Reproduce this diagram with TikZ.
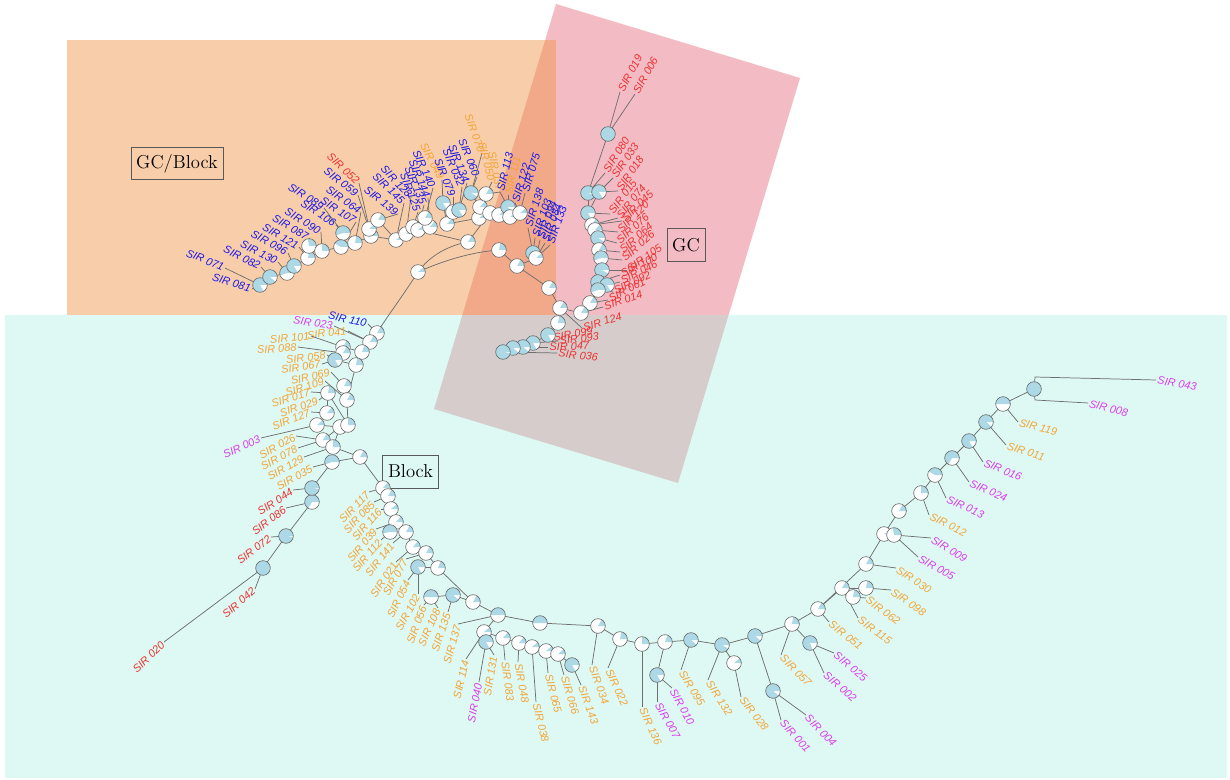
\documentclass[tikz,border=0pt]{standalone}
\usepackage{fontspec}
\newfontfamily\labfont{Liberation Sans}
\definecolor{cblue}{RGB}{25,25,235}
\definecolor{cred}{RGB}{238,50,50}
\definecolor{corange}{RGB}{243,164,56}
\definecolor{cmag}{RGB}{220,60,240}
\definecolor{pieblue}{RGB}{173,216,230}
\definecolor{brc}{RGB}{110,110,110}
\definecolor{pbd}{RGB}{100,100,100}
\definecolor{rpink}{RGB}{243,188,196}
\definecolor{rorange}{RGB}{240,148,70}
\definecolor{rcyan}{RGB}{155,237,221}
\tikzset{
 lab/.style={font=\labfont\itshape\fontsize{8.2}{9}\selectfont, inner sep=1pt},
 br/.style={draw=brc, line width=0.55pt},
 pienode/.style={circle, fill=white, minimum size=11pt, inner sep=0pt},
 piebd/.style={draw=pbd, line width=0.45pt},
 boxlab/.style={draw=gray!70!black, line width=0.5pt, font=\fontsize{14}{16}\selectfont, inner sep=4pt, minimum height=24.5pt}
}
% pie drawn at an existing coordinate
\newcommand\pie[2]{\node[pienode] (#1n) at (#1) {};
 \fill[pieblue] (#1) -- ++(0:5.5pt) arc[start angle=0,end angle=#2,radius=5.5pt] -- cycle;
 \draw[piebd] (#1) circle[radius=5.5pt];}
\newcommand\E[2]{\draw[br] (#1) -- (#2);}
% left-side leaf: text reads from outer to tip, anchored east at tip
\newcommand\lvL[6]{\coordinate (#1) at (#5);
 \path (#4) -- (#5) node[lab,text=#2,sloped,pos=1,anchor=east] (#1t) {#3};
 \E{#6}{#1}}
% right-side leaf: text reads from tip to outer, anchored west at tip
\newcommand\lvR[6]{\coordinate (#1) at (#5);
 \path (#5) -- (#4) node[lab,text=#2,sloped,pos=0,anchor=west] (#1t) {#3};
 \E{#6}{#1}}
\newcommand\lvRc[7]{\coordinate (#1) at (#5); \coordinate (#1c) at (#7);
 \path (#5) -- (#4) node[lab,text=#2,sloped,pos=0,anchor=west] (#1t) {#3};
 \draw[br] (#6) -- (#1c) -- (#1);}
\begin{document}
\begin{tikzpicture}[x=0.75pt,y=-0.75pt]
\useasboundingbox (0,0) rectangle (1230,780);
\fill[white] (0,0) rectangle (1230,780);
\fill[rpink] (556,4) -- (800,78) -- (678,483) -- (434,409) -- cycle;
\fill[rorange, opacity=0.46] (67,40) rectangle (556,315);
\fill[rcyan, opacity=0.33] (5,315) rectangle (1227,778);
\node[boxlab] (bxgcb) at (177,163.5) {GC/Block};
\node[boxlab] (bxgc) at (686,245) {GC};
\node[boxlab] (bxblock) at (410.5,471.5) {Block};
% ---------- internal node positions ----------
\foreach \n/\x/\y in {a1/263/568,a2/286/536,a3/312/502,a4/312/488,
 q1/377/333,q2/370/342,q3/362/352,q4/343/347,q5/343/353,q6/335/360,q7/356/365,q8/344/386,
 q9/347/400,q10/328/393,q11/327/413,q12/340/427,q13/348/425,q14/317/425,q15/323/440,q16/333/447,
 q17/332/462,q18/360/457,
 b0/383/488,b1/388/496,b2/391/509,b3/396/522,b4/390/532,b5/406/532,b6/413/547,b7/426/553,
 b8/418/567,b9/438/568,b10/431/597,b11/453/595,b12/473/602,b13/498/615,b14/484/632,b15/486/642,
 b16/503/638,b17/519/643,b18/532/647,b19/546/651,b20/558/654,b21/572/665,b22/540/623,b23/598/626,
 b24/620/639,b25/642/644,b26/665/642,b27/657/675,b28/691/640,b29/722/645,b30/734/663,b31/755/636,
 b32/773/691,b33/792/624,b34/810/643,b35/818/609,b36/842/588,b37/853/597,b38/866/588,b39/866/564,
 b40/884/534,b41/894/535,b42/899/511,b43/921/493,b44/935/475,b45/952/458,b46/969/441,b47/986/422,
 b48/1003/404,b49/1034/389,
 u1/260/285,u2/270/277,u3/287/273,u4/294/266,u5/308/258,u6/309/246,u7/322/251,u8/343/233,
 u9/341/247,u10/355/243,u11/371/236,u12/369/229,u13/378/220,u14/396/240,u15/406/234,u16/413/227,
 u17/418/230,u18/430/227,u19/425/218,u20/447/224,u21/443/203,u22/453/212,u23/459/210,u24/471/193,
 u25/479/218,u26/480/207,u27/486/194,u28/490/213,u29/499/215,u30/508/207,u31/510/217,u32/520/213,
 u33/468/242,u34/499/250,u35/517/266,u36/533/253,u37/536/258,u38/418/272,
 h1/549/288,h2/560/308,h3/558/323,h4/548/335,h5/533/343,h6/523/347,h7/513/348,h8/503/352,
 g1/608/134,g2/588/193,g3/599/192,g4/588/213,g5/592/225,g6/595/230,g7/598/238,g8/599/250,
 g9/601/258,g10/602/270,g11/598/282,g12/607/285,g13/598/290,g14/590/303,g15/581/313}
 {\coordinate (\n) at (\x,\y);}
% ---------- internal edges ----------
\foreach \a/\b in {a1/a2,a2/a3,a3/a4,a4/q17,
 q1/q2,q2/q3,q3/q4,q4/q5,q3/q7,q7/q6,q7/q9,q9/q8,q9/q13,q13/q10,q10/q11,q13/q12,q12/q14,q12/q15,q12/q16,q16/q18,q18/q17,q18/b0,
 b0/b1,b1/b2,b2/b3,b3/b4,b3/b5,b5/b6,b6/b7,b7/b9,b9/b8,b9/b12,b12/b11,b11/b10,b12/b13,b13/b14,b14/b15,b14/b16,b16/b17,b17/b18,b18/b19,b19/b20,b20/b21,
 b13/b22,b22/b23,b23/b24,b24/b25,b25/b26,b26/b27,b26/b28,b28/b29,b29/b30,b29/b31,b31/b32,b31/b33,b33/b34,b33/b35,b35/b36,b36/b37,b36/b38,b35/b39,
 b39/b40,b40/b41,b40/b42,b42/b43,b43/b44,b44/b45,b45/b46,b46/b47,b47/b48,b48/b49,
 u1/u2,u2/u3,u3/u4,u4/u5,u5/u6,u6/u7,u7/u9,u8/u9,u9/u10,u10/u11,u11/u12,u11/u14,u13/u14,u14/u15,u15/u16,u16/u17,u17/u18,u18/u19,
 u20/u21,u20/u22,u22/u23,u25/u20,u25/u26,u26/u24,u26/u27,u28/u25,u28/u29,u29/u30,u29/u31,u31/u32,u33/u28,u33/u17,
 u34/u35,u35/u37,u37/u36,u35/h1,h1/h2,h2/h3,h3/h4,h4/h5,h5/h6,h6/h7,h7/h8,
 h2/g15,g15/g14,g14/g13,g13/g12,g12/g11,g11/g10,g10/g9,g9/g8,g8/g7,g7/g6,g6/g5,g5/g4,g4/g3,g4/g2,g2/g1}
 {\E{\a}{\b}}
\draw[br] (u38) .. controls (400,300) and (386,318) .. (q1);
\draw[br] (u38) .. controls (430,255) and (450,245) .. (u33);
\draw[br] (u38) .. controls (440,262) and (470,252) .. (u34);
% ---------- leaves: red left ----------
\lvL{s020}{cred}{SIR 020}{135,670}{164,642}{a1}
\lvL{s042}{cred}{SIR 042}{225,615}{255,589}{a1}
\lvL{s072}{cred}{SIR 072}{238,562}{271,537}{a2}
\lvL{s086}{cred}{SIR 086}{253,533}{286,508}{a3}
\lvL{s044}{cred}{SIR 044}{258,513}{293,490}{a4}
% orange left
\lvL{s110}{cblue}{SIR 110}{328,315}{368,324}{q1}
\lvL{s023}{cmag}{SIR 023}{295,320}{334,326}{q2}
\lvL{s041}{corange}{SIR 041}{310,335}{348,331}{q2}
\lvL{s101}{corange}{SIR 101}{272,340}{311,336}{q4}
\lvL{s088}{corange}{SIR 088}{258,350}{298,347}{q5}
\lvL{s058}{corange}{SIR 058}{288,360}{327,355}{q6}
\lvL{s067}{corange}{SIR 067}{283,370}{322,364}{q6}
\lvL{s069}{corange}{SIR 069}{292,381}{331,372}{q8}
\lvL{s109}{corange}{SIR 109}{287,393}{325,381}{q9}
\lvL{s017}{corange}{SIR 017}{273,404}{311,392}{q10}
\lvL{s029}{corange}{SIR 029}{282,413}{319,400}{q10}
\lvL{s127}{corange}{SIR 127}{275,426}{311,412}{q11}
\lvL{s003}{cmag}{SIR 003}{225,455}{261,438}{q14}
\lvL{s026}{corange}{SIR 026}{258,457}{296,436}{q15}
\lvL{s078}{corange}{SIR 078}{260,468}{298,448}{q15}
\lvL{s129}{corange}{SIR 129}{268,478}{304,457}{q16}
\lvL{s035}{corange}{SIR 035}{280,486}{313,467}{q17}
% block
\lvL{s117}{corange}{SIR 117}{342,520}{369,492}{b0}
\lvL{s085}{corange}{SIR 085}{345,532}{374,502}{b1}
\lvL{s116}{corange}{SIR 116}{353,540}{381,509}{b2}
\lvL{s039}{corange}{SIR 039}{350,560}{376,529}{b3}
\lvL{s112}{corange}{SIR 112}{355,570}{381,540}{b4}
\lvL{s141}{corange}{SIR 141}{370,572}{393,543}{b5}
\lvL{s021}{corange}{SIR 021}{372,597}{396,562}{b6}
\lvL{s077}{corange}{SIR 077}{387,592}{406,559}{b7}
\lvL{s054}{corange}{SIR 054}{390,617}{408,580}{b8}
\lvL{s102}{corange}{SIR 102}{400,627}{418,594}{b8}
\lvL{s056}{corange}{SIR 056}{410,643}{424,605}{b10}
\lvL{s108}{corange}{SIR 108}{425,637}{438,608}{b10}
\lvL{s135}{corange}{SIR 135}{435,650}{448,612}{b11}
\lvL{s137}{corange}{SIR 137}{447,663}{458,624}{b13}
\lvL{s114}{corange}{SIR 114}{457,697}{466,659}{b14}
\lvL{s040}{cmag}{SIR 040}{472,718}{479,682}{b15}
\lvL{s131}{corange}{SIR 131}{488,690}{494,655}{b15}
\lvR{s083}{corange}{SIR 083}{510,698}{505,660}{b16}
\lvR{s048}{corange}{SIR 048}{525,700}{518,662}{b17}
\lvR{s038}{corange}{SIR 038}{545,740}{536,702}{b18}
\lvR{s065}{corange}{SIR 065}{558,712}{548,673}{b19}
\lvR{s066}{corange}{SIR 066}{575,712}{564,675}{b20}
\lvR{s143}{corange}{SIR 143}{595,723}{581,685}{b21}
\lvR{s034}{corange}{SIR 034}{605,702}{592,665}{b23}
\lvR{s022}{corange}{SIR 022}{625,705}{608,668}{b24}
\lvR{s136}{corange}{SIR 136}{658,743}{642,707}{b25}
\lvR{s007}{cmag}{SIR 007}{677,737}{657,702}{b27}
\lvR{s010}{cmag}{SIR 010}{692,725}{672,688}{b27}
\lvR{s095}{corange}{SIR 095}{702,705}{681,670}{b28}
\lvR{s132}{corange}{SIR 132}{730,715}{708,680}{b29}
\lvR{s028}{corange}{SIR 028}{767,730}{741,697}{b30}
\lvR{s001}{cmag}{SIR 001}{808,750}{781,720}{b32}
\lvR{s004}{cmag}{SIR 004}{835,745}{806,715}{b32}
\lvR{s057}{corange}{SIR 057}{812,687}{781,655}{b33}
\lvR{s002}{cmag}{SIR 002}{855,700}{824,673}{b34}
\lvR{s025}{cmag}{SIR 025}{867,680}{834,653}{b34}
\lvR{s051}{corange}{SIR 051}{862,648}{829,622}{b35}
\lvR{s115}{corange}{SIR 115}{892,643}{858,618}{b36}
\lvR{s062}{corange}{SIR 062}{900,623}{866,598}{b37}
\lvR{s098}{corange}{SIR 098}{927,615}{891,590}{b38}
\lvR{s030}{corange}{SIR 030}{932,592}{896,568}{b39}
\lvR{s005}{cmag}{SIR 005}{955,578}{918,557}{b41}
\lvR{s009}{cmag}{SIR 009}{967,560}{931,538}{b41}
\lvR{s012}{corange}{SIR 012}{965,533}{929,515}{b43}
\lvR{s013}{cmag}{SIR 013}{983,515}{946,498}{b44}
\lvR{s024}{cmag}{SIR 024}{1005,498}{969,482}{b45}
\lvR{s016}{cmag}{SIR 016}{1020,477}{983,462}{b46}
\lvR{s011}{corange}{SIR 011}{1043,457}{1006,445}{b47}
\lvR{s119}{corange}{SIR 119}{1057,432}{1018,422}{b48}
\lvRc{s008}{cmag}{SIR 008}{1127,413}{1088,403}{b49}{1035,400}
\lvRc{s043}{cmag}{SIR 043}{1195,387}{1156,380}{b49}{1035,377}
% upper left
\lvL{s081}{cblue}{SIR 081}{212,277}{252,289}{u1}
\lvL{s071}{cblue}{SIR 071}{188,253}{225,268}{u1}
\lvL{s082}{cblue}{SIR 082}{223,248}{261,267}{u2}
\lvL{s130}{cblue}{SIR 130}{240,243}{278,262}{u3}
\lvL{s096}{cblue}{SIR 096}{252,233}{288,253}{u4}
\lvL{s121}{cblue}{SIR 121}{265,227}{299,247}{u5}
\lvL{s087}{cblue}{SIR 087}{273,217}{309,238}{u6}
\lvL{s090}{cblue}{SIR 090}{285,210}{321,232}{u7}
\lvL{s089}{cblue}{SIR 089}{288,185}{324,208}{u8}
\lvL{s106}{cblue}{SIR 106}{302,202}{336,225}{u8}
\lvL{s107}{cblue}{SIR 107}{323,200}{356,222}{u9}
\lvL{s064}{cblue}{SIR 064}{327,188}{361,212}{u10}
\lvL{s059}{cblue}{SIR 059}{323,168}{358,195}{u12}
\lvL{s052}{cred}{SIR 052}{327,153}{359,183}{u11}
\lvL{s139}{cblue}{SIR 139}{370,192}{398,214}{u13}
\lvL{s145}{cblue}{SIR 145}{377,177}{404,203}{u14}
\lvL{s128}{cblue}{SIR 128}{383,167}{411,197}{u15}
\lvL{s125}{cblue}{SIR 125}{405,178}{418,212}{u16}
\lvL{s135b}{cblue}{SIR 135}{409,170}{424,205}{u17}
\lvL{s144}{cblue}{SIR 144}{413,162}{428,198}{u18}
\lvL{s140}{cblue}{SIR 140}{417,153}{433,188}{u19}
\lvL{s049}{corange}{SIR 049}{423,143}{442,180}{u21}
\lvL{s079}{cblue}{SIR 079}{438,160}{453,197}{u22}
\lvL{s032}{cblue}{SIR 032}{447,152}{462,187}{u23}
\lvL{s134}{cblue}{SIR 134}{453,148}{467,183}{u23}
\lvL{s060}{cblue}{SIR 060}{462,140}{477,177}{u24}
\lvL{s070}{corange}{SIR 070}{468,115}{482,153}{u24}
\lvL{s050}{corange}{SIR 050}{482,143}{492,182}{u27}
\lvL{s037}{corange}{SIR 037}{492,153}{500,192}{u27}
\lvR{s113}{cblue}{SIR 113}{510,152}{500,192}{u30}
\lvR{s111}{corange}{SIR 111}{517,157}{508,195}{u30}
\lvR{s122}{cblue}{SIR 122}{527,163}{515,203}{u32}
\lvR{s075}{cblue}{SIR 075}{537,153}{525,193}{u32}
\lvR{s138}{cblue}{SIR 138}{540,190}{528,228}{u36}
\lvR{s103}{cblue}{SIR 103}{548,200}{535,238}{u36}
\lvR{s094}{cblue}{SIR 094}{553,203}{540,240}{u37}
\lvR{s084}{cblue}{SIR 084}{558,205}{545,243}{u37}
\lvR{s133}{cblue}{SIR 133}{563,208}{550,245}{u37}
% GC
\lvR{s019}{cred}{SIR 019}{640,55}{620,92}{g1}
\lvR{s006}{cred}{SIR 006}{657,55}{635,94}{g1}
\lvR{s080}{cred}{SIR 080}{627,138}{605,173}{g2}
\lvR{s033}{cred}{SIR 033}{637,143}{613,178}{g3}
\lvR{s018}{cred}{SIR 018}{637,163}{618,191}{g3}
\lvR{s015}{cred}{SIR 015}{630,187}{610,214}{g4}
\lvR{s074}{cred}{SIR 074}{642,188}{618,218}{g5}
\lvR{s045}{cred}{SIR 045}{647,197}{622,221}{g5}
\lvR{s120}{cred}{SIR 120}{640,210}{618,232}{g6}
\lvR{s076}{cred}{SIR 076}{640,222}{617,243}{g7}
\lvR{s064g}{cred}{SIR 064}{643,232}{620,252}{g8}
\lvR{s026g}{cred}{SIR 026}{645,240}{622,260}{g9}
\lvR{s105}{cred}{SIR 105}{660,247}{627,270}{g10}
\lvR{s100}{cred}{SIR 100}{653,258}{620,275}{g11}
\lvR{s046}{cred}{SIR 046}{647,268}{620,282}{g12}
\lvR{s092}{cred}{SIR 092}{642,278}{613,292}{g13}
\lvR{s061}{cred}{SIR 061}{633,287}{608,300}{g14}
\lvR{s014}{cred}{SIR 014}{633,297}{603,307}{g15}
\lvR{s124}{cred}{SIR 124}{615,318}{582,328}{h2}
\lvR{s099}{cred}{SIR 099}{590,331}{552,338}{h4}
\lvR{s093}{cred}{SIR 093}{595,337}{558,341}{h5}
\lvR{s047}{cred}{SIR 047}{585,346}{548,347}{h6}
\lvR{s036}{cred}{SIR 036}{594,357}{557,353}{h8}
% ---------- pies ----------
\foreach \n/\d in {a1/355,a2/350,a3/240,a4/350,
 q1/60,q2/60,q3/70,q4/60,q5/60,q6/300,q7/80,q8/60,q9/60,q10/80,q11/50,q12/40,q13/90,q14/40,q15/60,q16/90,q17/200,q18/60,
 b0/50,b1/60,b2/40,b3/50,b4/190,b5/60,b6/50,b7/60,b8/300,b9/70,b10/180,b11/320,b12/60,b13/180,b14/40,b15/300,
 b16/50,b17/50,b18/40,b19/40,b20/40,b21/300,b22/180,b23/60,b24/80,b25/90,b26/70,b27/300,b28/320,b29/330,b30/40,b31/320,
 b32/320,b33/80,b34/290,b35/60,b36/60,b37/80,b38/80,b39/60,b40/30,b41/100,b42/60,b43/90,b44/150,b45/240,b46/300,b47/320,
 b48/180,b49/355,
 u1/300,u2/320,u3/200,u4/300,u5/80,u6/100,u7/90,u8/200,u9/150,u10/80,u11/40,u12/40,u13/60,u14/40,u15/50,u16/50,
 u17/40,u18/50,u19/60,u20/50,u21/300,u22/80,u23/300,u24/330,u25/40,u26/50,u27/60,u28/40,u29/40,u30/300,u31/40,u32/40,
 u33/60,u34/80,u35/60,u36/300,u37/40,u38/40,
 h1/60,h2/60,h3/80,h4/300,h5/300,h6/320,h7/320,h8/350,
 g1/359,g2/340,g3/300,g4/300,g5/60,g6/50,g7/330,g8/60,g9/200,g10/330,g11/320,g12/300,g13/200,g14/60,g15/60}
 {\pie{\n}{\d}}
\end{tikzpicture}
\end{document}
